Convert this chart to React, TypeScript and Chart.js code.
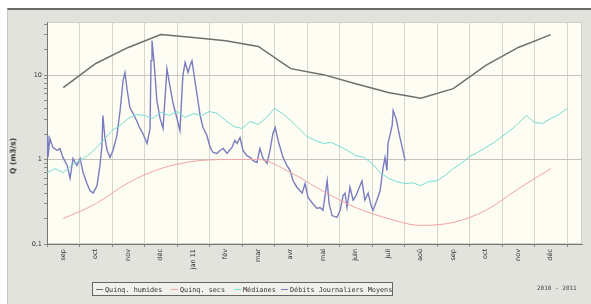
import React, { useEffect, useRef } from 'react';
import { Chart, registerables } from 'chart.js';

Chart.register(...registerables);

// Month labels (centred in each month)
const monthLabels = ['sep', 'oct', 'nov', 'déc', 'jan 11', 'fév', 'mar', 'avr', 'mai', 'juin', 'juil', 'aoû', 'sep', 'oct', 'nov', 'déc'];

// Monthly statistics (mid-month positions, in months since 1 Sep)
const statMonths = [0.5, 1.5, 2.5, 3.5, 4.5, 5.5, 6.5, 7.5, 8.5, 9.5, 10.5, 11.5, 12.5, 13.5, 14.5, 15.5];
const quinqHumides = [7.1, 13.7, 21.2, 30.1, 27.8, 25.5, 21.8, 11.9, 10.1, 7.9, 6.2, 5.3, 6.9, 13.0, 21.2, 30.1];
const quinqSecs = [0.2, 0.3, 0.53, 0.78, 0.95, 1.0, 1.0, 0.7, 0.42, 0.27, 0.2, 0.166, 0.18, 0.25, 0.45, 0.78];

// Medians (every quarter month)
const medianStep = 0.25;
const medianes = [
  0.70, 0.78, 0.70, 0.85, 0.97, 1.11, 1.35, 1.72, 2.20, 2.53,
  3.06, 3.41, 3.32, 3.06, 3.60, 3.32, 3.70, 3.14, 3.50, 3.32,
  3.70, 3.50, 2.89, 2.46, 2.33, 2.82, 2.60, 3.14, 4.01, 3.50,
  2.89, 2.33, 1.87, 1.68, 1.55, 1.59, 1.43, 1.28, 1.11, 1.06,
  0.90, 0.70, 0.60, 0.55, 0.52, 0.53, 0.49, 0.55, 0.56, 0.65,
  0.78, 0.90, 1.09, 1.21, 1.39, 1.59, 1.87, 2.20, 2.67, 3.32,
  2.74, 2.67, 3.06, 3.41, 4.01,
];

// Daily mean flows
const debitsX = [
  0.00, 0.03, 0.09, 0.18, 0.31, 0.40, 0.49, 0.62, 0.71, 0.80,
  0.92, 1.02, 1.11, 1.23, 1.32, 1.42, 1.54, 1.63, 1.69, 1.72,
  1.78, 1.85, 1.94, 2.03, 2.15, 2.25, 2.34, 2.40, 2.46, 2.55,
  2.65, 2.77, 2.86, 2.95, 3.08, 3.17, 3.20, 3.23, 3.29, 3.38,
  3.48, 3.57, 3.69, 3.78, 3.88, 4.00, 4.09, 4.18, 4.25, 4.34,
  4.40, 4.46, 4.55, 4.62, 4.71, 4.80, 4.92, 5.02, 5.11, 5.23,
  5.32, 5.42, 5.54, 5.63, 5.69, 5.78, 5.85, 5.94, 6.03, 6.15,
  6.25, 6.34, 6.46, 6.55, 6.65, 6.77, 6.86, 6.95, 7.02, 7.11,
  7.26, 7.38, 7.48, 7.57, 7.69, 7.85, 7.94, 8.03, 8.18, 8.31,
  8.40, 8.49, 8.62, 8.68, 8.77, 8.92, 9.02, 9.11, 9.17, 9.23,
  9.32, 9.42, 9.51, 9.57, 9.69, 9.78, 9.88, 9.97, 10.03, 10.15,
  10.25, 10.34, 10.40, 10.46, 10.49, 10.55, 10.62, 10.65, 10.74, 10.86,
  11.02,
];
const debitsQ = [
  1.92, 1.06, 1.77, 1.39, 1.28, 1.35, 1.06, 0.85, 0.60, 1.03,
  0.85, 1.03, 0.70, 0.52, 0.43, 0.40, 0.49, 0.85, 1.46, 3.32,
  1.82, 1.28, 1.06, 1.28, 1.92, 3.80, 8.61, 10.7, 6.92, 4.12,
  3.50, 2.82, 2.33, 2.03, 1.55, 2.33, 14.8, 25.6, 14.8, 4.99,
  3.06, 2.33, 11.9, 7.51, 4.60, 3.06, 2.20, 9.86, 14.1, 10.7,
  12.9, 14.8, 8.61, 5.72, 3.32, 2.39, 1.92, 1.39, 1.21, 1.18,
  1.28, 1.35, 1.18, 1.31, 1.39, 1.68, 1.55, 1.82, 1.28, 1.11,
  1.06, 0.97, 0.92, 1.35, 1.03, 0.90, 1.28, 2.03, 2.39, 1.68,
  1.06, 0.85, 0.74, 0.56, 0.47, 0.40, 0.52, 0.355, 0.30, 0.263,
  0.27, 0.25, 0.56, 0.30, 0.217, 0.206, 0.25, 0.375, 0.40, 0.27,
  0.47, 0.33, 0.375, 0.43, 0.56, 0.33, 0.40, 0.285, 0.25, 0.33,
  0.43, 0.80, 1.06, 0.74, 1.55, 1.92, 2.53, 3.80, 3.06, 1.82,
  0.97,
];

const yTickValues = [0.1, 0.2, 0.3, 0.4, 0.5, 0.6, 0.7, 0.8, 0.9, 1, 2, 3, 4, 5, 6, 7, 8, 9, 10, 20, 30, 40];
const yLabelMap: Record<string, string> = { '0.1': '0,1', '1': '1', '10': '10' };

const legendItems = [
  { label: 'Quinq. humides', color: '#6f6f6f', left: 3 },
  { label: 'Quinq. secs', color: '#f2a3a3', left: 78 },
  { label: 'Médianes', color: '#78dcd2', left: 141 },
  { label: 'Débits Journaliers Moyens', color: '#7a7cc0', left: 188 },
];

const bgPlugin = {
  id: 'plotBg',
  beforeDraw(chart: any) {
    const { ctx, chartArea: a } = chart;
    ctx.save();
    ctx.fillStyle = '#fdfdf3';
    ctx.fillRect(a.left, a.top, a.right - a.left, a.bottom - a.top);
    ctx.strokeStyle = '#cfcfc6';
    ctx.lineWidth = 1;
    ctx.strokeRect(a.left + 0.5, a.top + 0.5, a.right - a.left - 1, a.bottom - a.top - 1);
    ctx.restore();
  },
};

export default function App() {
  const ref = useRef<HTMLCanvasElement>(null);

  useEffect(() => {
    if (!ref.current) return;
    const isInt = (v: number) => Math.abs(v - Math.round(v)) < 1e-6;
    const chart = new Chart(ref.current, {
      type: 'line',
      data: {
        datasets: [
          {
            label: 'Quinq. humides',
            data: statMonths.map((m, i) => ({ x: m, y: quinqHumides[i] })),
            borderColor: '#6f6f6f',
            borderWidth: 1.5,
            pointRadius: 0,
            tension: 0,
          },
          {
            label: 'Quinq. secs',
            data: statMonths.map((m, i) => ({ x: m, y: quinqSecs[i] })),
            borderColor: '#f2a3a3',
            borderWidth: 1,
            pointRadius: 0,
            cubicInterpolationMode: 'monotone',
          },
          {
            label: 'Médianes',
            data: medianes.map((v, i) => ({ x: i * medianStep, y: v })),
            borderColor: '#78dcd2',
            borderWidth: 1,
            pointRadius: 0,
            tension: 0,
          },
          {
            label: 'Débits Journaliers Moyens',
            data: debitsX.map((m, i) => ({ x: m, y: debitsQ[i] })),
            borderColor: '#7a7cc0',
            borderWidth: 1.4,
            pointRadius: 0,
            tension: 0,
          },
        ],
      },
      options: {
        animation: false,
        responsive: false,
        maintainAspectRatio: false,
        layout: { padding: { left: 0, right: 9, top: 12, bottom: 0 } },
        plugins: { legend: { display: false }, tooltip: { enabled: false }, title: { display: false } },
        scales: {
          x: {
            type: 'linear',
            min: 0,
            max: 16.46,
            afterBuildTicks: (s: any) => {
              const t = [];
              for (let i = 0; i <= 32; i++) t.push({ value: i / 2 });
              s.ticks = t;
            },
            afterFit: (s: any) => {
              s.height = 60;
            },
            grid: {
              color: (c: any) => (c.tick && isInt(c.tick.value) ? '#d6d6cd' : 'rgba(0,0,0,0)'),
              tickColor: (c: any) => (c.tick && isInt(c.tick.value) ? '#8a8a8a' : 'rgba(0,0,0,0)'),
              tickLength: 3,
            },
            border: { color: '#777', width: 1 },
            ticks: {
              autoSkip: false,
              minRotation: 90,
              maxRotation: 90,
              padding: 2,
              color: '#333',
              font: { family: 'DejaVu Sans', size: 6.5 },
              callback: (v: any) => {
                const n = Number(v);
                if (isInt(n)) return '';
                return monthLabels[Math.floor(n)] ?? '';
              },
            },
          },
          y: {
            type: 'logarithmic',
            min: 0.1,
            max: 42.4,
            afterBuildTicks: (s: any) => {
              s.ticks = yTickValues.map((v) => ({ value: v }));
            },
            afterFit: (s: any) => {
              s.width = 39;
            },
            grid: {
              color: (c: any) =>
                c.tick && (c.tick.value === 1 || c.tick.value === 10) ? '#c4c4bc' : 'rgba(0,0,0,0)',
              tickColor: '#8a8a8a',
              tickLength: 3,
            },
            border: { color: '#777', width: 1 },
            ticks: {
              autoSkip: false,
              padding: 2,
              color: '#333',
              font: { family: 'DejaVu Sans', size: 6.5 },
              callback: (v: any) => yLabelMap[String(v)] ?? '',
            },
          },
        },
      },
      plugins: [bgPlugin],
    } as any);
    return () => chart.destroy();
  }, []);

  return (
    <div
      style={{
        position: 'fixed',
        left: 7,
        top: 8,
        width: 584,
        height: 296,
        boxSizing: 'border-box',
        background: '#e3e3dd',
        borderTop: '2px solid #6a6a66',
        borderLeft: '1px solid #c9c9c2',
        overflow: 'hidden',
      }}
    >
      <canvas ref={ref} width={583} height={294} style={{ position: 'absolute', left: 0, top: 0, width: 583, height: 294 }} />
      <div
        style={{
          position: 'absolute',
          left: 5,
          top: 146,
          transform: 'translate(-50%, -50%) rotate(-90deg)',
          whiteSpace: 'nowrap',
          font: 'bold 7.5px "DejaVu Sans"',
          color: '#333',
        }}
      >
        Q (m3/s)
      </div>
      <div
        style={{
          position: 'absolute',
          left: 84,
          top: 272,
          width: 301,
          height: 14,
          boxSizing: 'border-box',
          border: '1px solid #666',
          background: '#f1f1eb',
          font: '6.8px "DejaVu Sans Mono"',
          color: '#333',
        }}
      >
        {legendItems.map((it) => (
          <div
            key={it.label}
            style={{ position: 'absolute', left: it.left, top: 2, height: 9, display: 'flex', alignItems: 'center', whiteSpace: 'nowrap' }}
          >
            <span style={{ display: 'inline-block', width: 7, height: 0, borderTop: `1.5px solid ${it.color}`, marginRight: 2 }} />
            <span>{it.label}</span>
          </div>
        ))}
      </div>
      <div
        style={{
          position: 'absolute',
          left: 529,
          top: 274,
          whiteSpace: 'nowrap',
          font: '6px "DejaVu Sans Mono"',
          color: '#444',
        }}
      >
        2010 - 2011
      </div>
    </div>
  );
}
